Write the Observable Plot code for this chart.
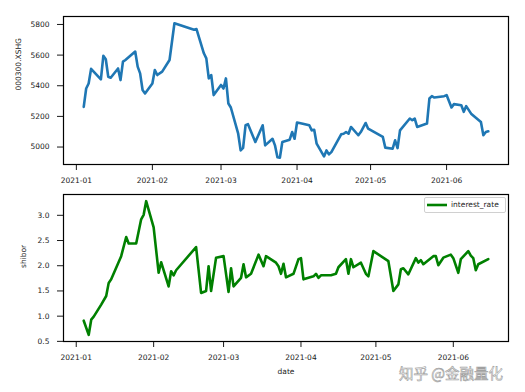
<!DOCTYPE html>
<html>
<head>
<meta charset="utf-8">
<script src="https://cdn.jsdelivr.net/npm/d3@7"></script>
<script src="https://cdn.jsdelivr.net/npm/@observablehq/plot@0.6"></script>
<style>
  html, body { margin: 0; padding: 0; background: #fff; }
  #wrap { position: relative; width: 525px; height: 392px; overflow: hidden; font-family: "DejaVu Sans", sans-serif; }
  #chartTop, #chartBottom { position: absolute; left: 0; }
  #chartTop { top: 0; }
  #chartBottom { top: 190px; }
  #legend { position: absolute; left: 424px; top: 197px; width: 80px; height: 14px; border: 1px solid #d0d0d0; border-radius: 2px; background: rgba(255,255,255,0.85); font-size: 7.5px; color: #222; }
  #legend svg { position: absolute; left: 2px; top: 0; }
  #legend span { position: absolute; left: 26px; top: 2px; white-space: nowrap; }
  #wm { position: absolute; left: 399px; top: 366px; font-family: "Noto Sans CJK SC", sans-serif; font-size: 14.5px; line-height: 14.5px; color: rgba(255,255,255,0.95); -webkit-text-stroke: 0.6px #a0a0a0; white-space: nowrap; }
</style>
</head>
<body>
<div id="wrap">
  <div id="chartTop"></div>
  <div id="chartBottom"></div>
  <div id="legend"><svg width="22" height="14"><line x1="0" x2="20" y1="7" y2="7" stroke="#008000" stroke-width="2.6"/></svg><span>interest_rate</span></div>
  <div id="wm">知乎 @金融量化</div>
</div>
<script>
// ---- data ----
const indexDates = ["2021-01-04","2021-01-05","2021-01-06","2021-01-07","2021-01-11","2021-01-12","2021-01-13","2021-01-14","2021-01-15","2021-01-18","2021-01-19","2021-01-20","2021-01-21","2021-01-25","2021-01-26","2021-01-27","2021-01-28","2021-01-29","2021-02-01","2021-02-02","2021-02-03","2021-02-05","2021-02-08","2021-02-10","2021-02-18","2021-02-19","2021-02-22","2021-02-23","2021-02-24","2021-02-25","2021-02-26","2021-03-01","2021-03-02","2021-03-03","2021-03-04","2021-03-05","2021-03-08","2021-03-09","2021-03-10","2021-03-11","2021-03-12","2021-03-15","2021-03-18","2021-03-19","2021-03-22","2021-03-23","2021-03-24","2021-03-25","2021-03-26","2021-03-29","2021-03-30","2021-03-31","2021-04-01","2021-04-02","2021-04-06","2021-04-07","2021-04-08","2021-04-09","2021-04-12","2021-04-13","2021-04-14","2021-04-15","2021-04-19","2021-04-20","2021-04-21","2021-04-22","2021-04-23","2021-04-26","2021-04-27","2021-04-29","2021-04-30","2021-05-06","2021-05-07","2021-05-10","2021-05-11","2021-05-12","2021-05-13","2021-05-17","2021-05-18","2021-05-19","2021-05-20","2021-05-24","2021-05-25","2021-05-26","2021-05-27","2021-05-31","2021-06-01","2021-06-03","2021-06-04","2021-06-07","2021-06-08","2021-06-09","2021-06-11","2021-06-15","2021-06-16","2021-06-17","2021-06-18"];
const indexValues = [5262,5382,5415,5510,5442,5595,5573,5459,5452,5513,5437,5557,5568,5623,5525,5481,5372,5350,5415,5503,5470,5492,5568,5808,5765,5770,5612,5579,5448,5470,5339,5405,5382,5448,5284,5258,5087,4978,4995,5142,5149,5033,5142,5011,5054,5011,4934,4930,5033,5048,5098,5054,5160,5157,5142,5109,5113,5022,4939,4978,4952,4967,5083,5087,5098,5087,5131,5077,5098,5157,5120,5066,4996,4989,5044,4993,5109,5186,5175,5186,5131,5153,5317,5332,5323,5332,5339,5258,5280,5273,5230,5267,5218,5164,5077,5098,5103];

const rateDates = ["2021-01-04","2021-01-06","2021-01-07","2021-01-08","2021-01-11","2021-01-13","2021-01-14","2021-01-15","2021-01-19","2021-01-21","2021-01-22","2021-01-25","2021-01-27","2021-01-28","2021-01-29","2021-02-01","2021-02-03","2021-02-04","2021-02-07","2021-02-08","2021-02-09","2021-02-10","2021-02-18","2021-02-20","2021-02-22","2021-02-23","2021-02-24","2021-02-26","2021-03-01","2021-03-03","2021-03-04","2021-03-05","2021-03-08","2021-03-09","2021-03-10","2021-03-12","2021-03-15","2021-03-17","2021-03-18","2021-03-22","2021-03-23","2021-03-24","2021-03-25","2021-03-26","2021-03-29","2021-03-31","2021-04-01","2021-04-02","2021-04-06","2021-04-07","2021-04-08","2021-04-09","2021-04-13","2021-04-15","2021-04-16","2021-04-19","2021-04-20","2021-04-21","2021-04-22","2021-04-25","2021-04-27","2021-04-28","2021-04-30","2021-05-06","2021-05-08","2021-05-10","2021-05-11","2021-05-12","2021-05-14","2021-05-17","2021-05-18","2021-05-19","2021-05-20","2021-05-24","2021-05-25","2021-05-26","2021-05-28","2021-05-31","2021-06-01","2021-06-03","2021-06-04","2021-06-07","2021-06-08","2021-06-09","2021-06-10","2021-06-11","2021-06-15"];
const rateValues = [0.91,0.63,0.93,0.99,1.23,1.40,1.66,1.73,2.19,2.57,2.44,2.44,2.92,3.01,3.28,2.76,1.86,2.07,1.59,1.89,1.81,1.91,2.37,1.46,1.50,1.99,1.50,2.16,2.19,1.48,1.95,1.59,1.76,2.03,1.77,1.84,2.22,1.99,2.19,2.06,1.99,1.84,2.04,1.77,1.84,2.13,2.15,1.73,1.79,1.84,1.76,1.81,1.81,1.84,1.97,2.13,1.84,2.13,1.97,2.06,1.84,1.79,2.29,2.09,1.50,1.63,1.93,1.95,1.83,2.15,2.06,2.11,2.03,2.19,2.19,2.01,2.16,2.22,2.15,1.86,2.13,2.29,2.20,2.15,1.91,2.03,2.13];

const monthTicks = ["2021-01","2021-02","2021-03","2021-04","2021-05","2021-06"];
const indexTicks = [5000,5200,5400,5600,5800];
const rateTicks = [0.5,1.0,1.5,2.0,2.5,3.0];

// ---- build ----
const parse = d3.utcParse("%Y-%m-%d");
const parseM = d3.utcParse("%Y-%m");
const indexData = indexDates.map((d, i) => ({date: parse(d), value: indexValues[i]}));
const rateData = rateDates.map((d, i) => ({date: parse(d), value: rateValues[i]}));
const tickDates = monthTicks.map(parseM);

function padNum(ext) { const r = ext[1] - ext[0]; return [ext[0] - 0.05 * r, ext[1] + 0.05 * r]; }
function padDate(ext) { const p = padNum([+ext[0], +ext[1]]); return [new Date(p[0]), new Date(p[1])]; }

const fmt = d3.utcFormat("%Y-%m");
const chartStyle = {fontFamily: "DejaVu Sans, sans-serif", fontSize: "7.5px", color: "#1a1a1a", background: "transparent", overflow: "visible"};

const topChart = Plot.plot({
  width: 525, height: 190,
  marginLeft: 63, marginRight: 17, marginTop: 16, marginBottom: 26,
  style: chartStyle,
  x: {type: "utc", domain: padDate(d3.extent(indexData, d => d.date))},
  y: {domain: padNum(d3.extent(indexData, d => d.value))},
  marks: [
    Plot.axisX({ticks: tickDates, tickFormat: fmt, tickSize: 6, tickPadding: 7, label: null}),
    Plot.axisY({ticks: indexTicks, tickFormat: d3.format("d"), tickSize: 6, tickPadding: 8, label: null}),
    Plot.line(indexData, {x: "date", y: "value", stroke: "#1f77b4", strokeWidth: 2.6, strokeLinejoin: "round"}),
    Plot.frame({stroke: "black", strokeWidth: 1.2}),
    Plot.text(["000300.XSHG"], {text: d => d, frameAnchor: "left", dx: -45, rotate: -90, fontSize: 7.5, fill: "#1a1a1a"})
  ]
});
document.getElementById("chartTop").appendChild(topChart);

const bottomChart = Plot.plot({
  width: 525, height: 202,
  marginLeft: 63, marginRight: 17, marginTop: 4, marginBottom: 51,
  style: chartStyle,
  x: {type: "utc", domain: padDate(d3.extent(rateData, d => d.date))},
  y: {domain: padNum(d3.extent(rateData, d => d.value))},
  marks: [
    Plot.axisX({ticks: tickDates, tickFormat: fmt, tickSize: 6, tickPadding: 7, label: null}),
    Plot.axisY({ticks: rateTicks, tickFormat: d3.format(".1f"), tickSize: 6, tickPadding: 8, label: null}),
    Plot.line(rateData, {x: "date", y: "value", stroke: "#008000", strokeWidth: 2.6, strokeLinejoin: "round"}),
    Plot.frame({stroke: "black", strokeWidth: 1.2}),
    Plot.text(["shibor"], {text: d => d, frameAnchor: "left", dx: -40, rotate: -90, fontSize: 7.5, fill: "#1a1a1a"}),
    Plot.text(["date"], {text: d => d, frameAnchor: "bottom", dy: 32, fontSize: 7.5, fill: "#1a1a1a"})
  ]
});
document.getElementById("chartBottom").appendChild(bottomChart);
</script>
</body>
</html>
